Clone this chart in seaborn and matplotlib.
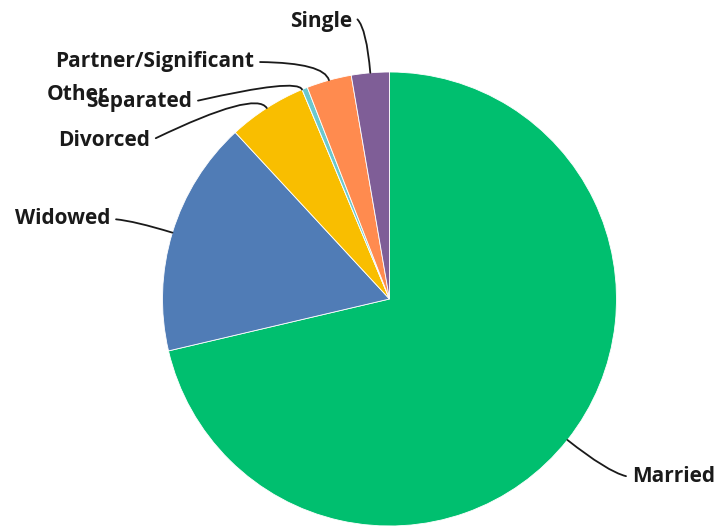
import numpy as np
import matplotlib
matplotlib.use("Agg")
import matplotlib.pyplot as plt
import seaborn as sns

# answer shares (percent)
labels = ["Married", "Widowed", "Divorced", "Separated", "Other",
          "Partner/Significant", "Single"]
values = [71.4, 16.8, 5.6, 0.0, 0.4, 3.2, 2.7]
colors = ["#00BF6F", "#507CB6", "#F9BE00", "#6BC8CD", "#6BC8CD",
          "#FF8B4F", "#7F5E97"]

# label placement in pixels (text anchor x, y, alignment, angle of the leader leaving the text)
label_px = {
    "Married": (632, 477, "left", 180),
    "Widowed": (110, 219, "right", 0),
    "Divorced": (150, 141, "right", 26),
    "Separated": (192, 102, "right", 13),
    "Other": (108, 94, "right", None),
    "Partner/Significant": (254, 62, "right", 0),
    "Single": (352, 22, "right", 0),
}

W, H = 715, 527
cx, cy, r = 389.5, 299.0, 227.0


def px2data(px, py):
    return (px - cx) / r, (cy - py) / r


sns.set_style("white")
plt.rcParams["font.family"] = ["Open Sans", "DejaVu Sans"]

fig = plt.figure(figsize=(W / 100, H / 100), dpi=100)
ax = fig.add_axes([0, 0, 1, 1])

wedges, _ = ax.pie(values, colors=colors, startangle=90, counterclock=False,
                   radius=1, center=(0, 0), frame=True,
                   wedgeprops=dict(linewidth=0.6, edgecolor="white"))
ax.set_xlim(-cx / r, (W - cx) / r)
ax.set_ylim(-(H - cy) / r, cy / r)
ax.set_aspect("auto")
ax.axis("off")

txt = dict(fontsize=15, fontweight="bold", color="#1a1a1a")
for w, lab in zip(wedges, labels):
    tx, ty, ha, angA = label_px[lab]
    mid = np.deg2rad((w.theta1 + w.theta2) / 2)
    pt = (np.cos(mid), np.sin(mid))
    angB = np.rad2deg(mid)
    xt, yt = px2data(tx, ty)
    if angA is None:
        ax.text(xt, yt, lab, ha=ha, va="center", **txt)
        continue
    relpos = (1, 0.5) if ha == "right" else (0, 0.5)
    if lab == "Single":
        relpos = (1, 0.75)
    ax.annotate(lab, xy=pt, xytext=(xt, yt), textcoords="data",
                ha=ha, va="center", **txt,
                arrowprops=dict(arrowstyle="-", color="#1a1a1a", lw=1.3,
                                relpos=relpos, shrinkA=2, shrinkB=0,
                                connectionstyle=f"angle3,angleA={angA},angleB={angB}"))

fig.savefig("out.png", dpi=100)
